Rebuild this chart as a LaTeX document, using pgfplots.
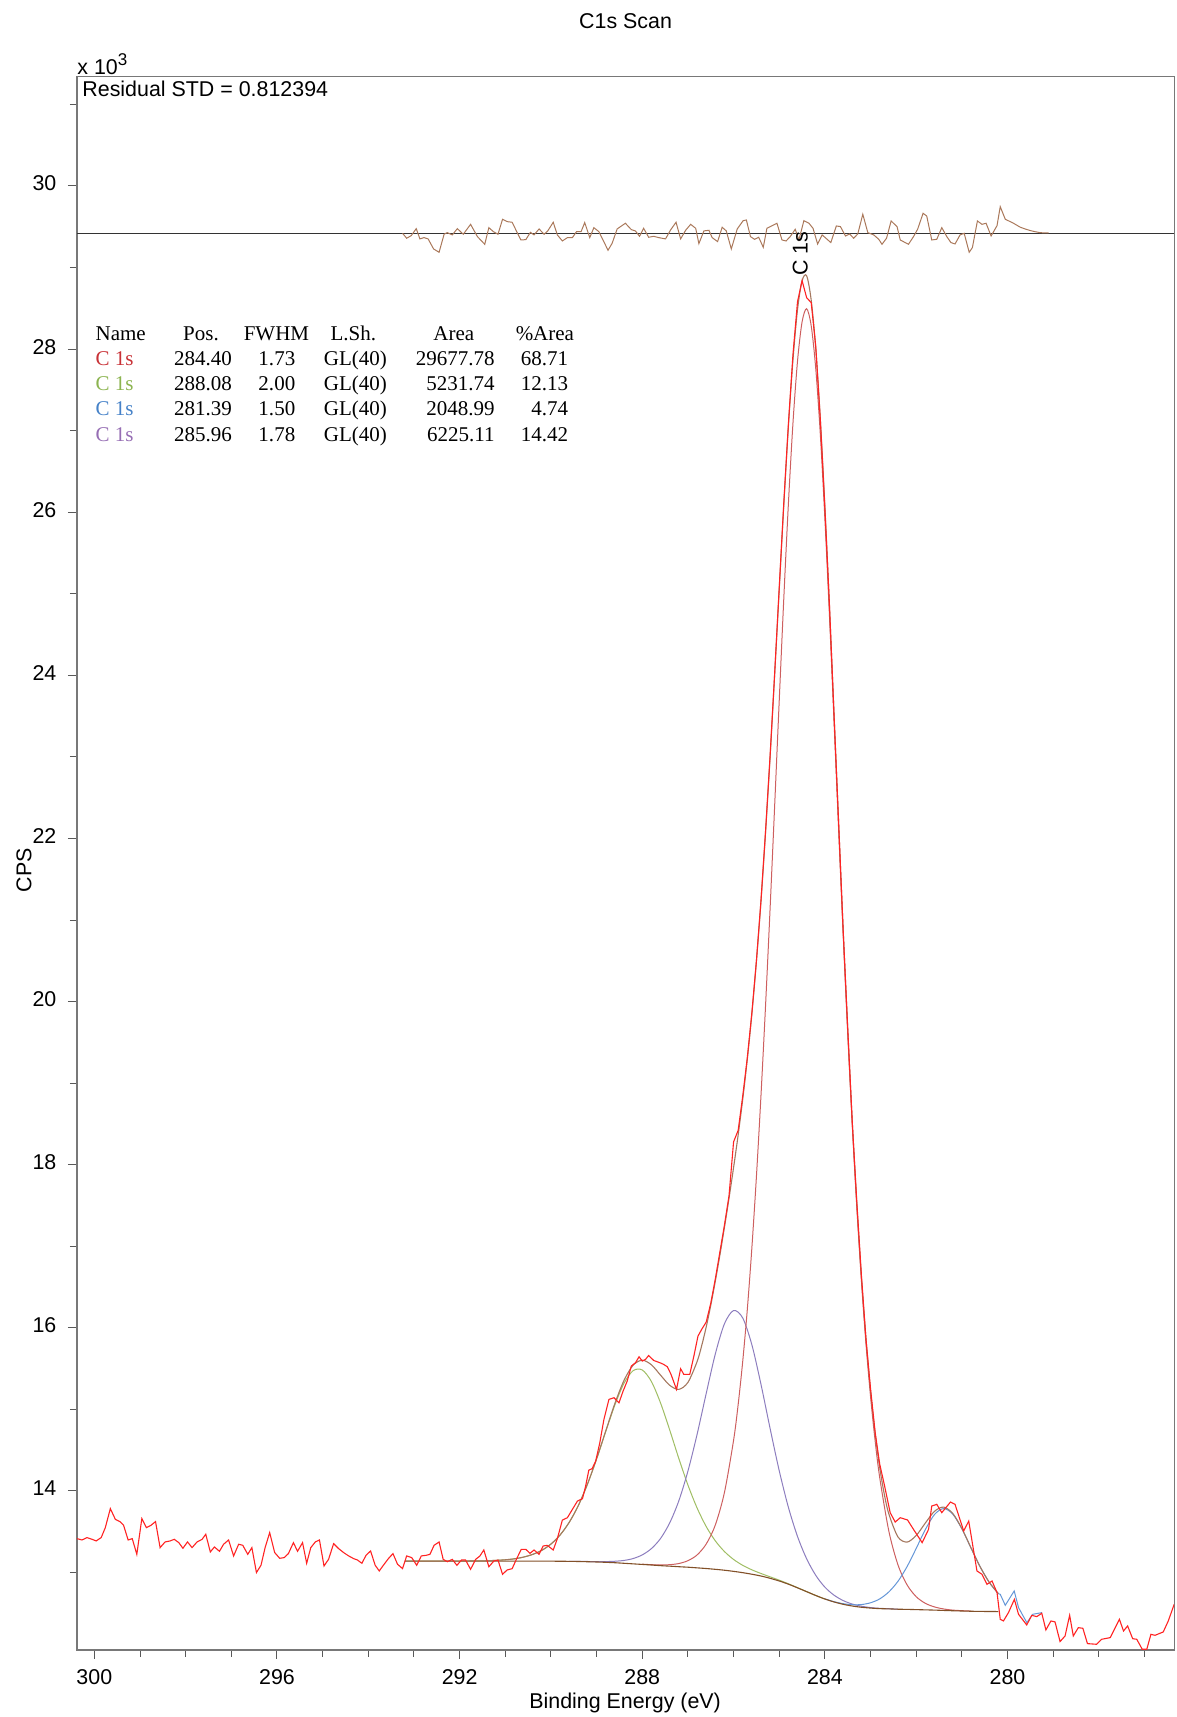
\documentclass[border=0pt]{standalone}
\usepackage{fontspec}
\setmainfont{Liberation Sans}
\newfontfamily\tms{Liberation Serif}
\usepackage{pgfplots}
\pgfplotsset{compat=1.18}
\definecolor{rawred}{RGB}{255,35,35}
\definecolor{envc}{RGB}{165,120,95}
\definecolor{bgc}{RGB}{130,80,40}
\definecolor{mainc}{RGB}{205,95,95}
\definecolor{greenc}{RGB}{160,190,100}
\definecolor{purplec}{RGB}{140,125,190}
\definecolor{bluec}{RGB}{100,150,215}
\definecolor{resc}{RGB}{170,120,90}
\definecolor{framegray}{RGB}{120,120,120}
\definecolor{tred}{RGB}{200,50,55}
\definecolor{tgreen}{RGB}{140,180,80}
\definecolor{tblue}{RGB}{70,130,200}
\definecolor{tpurple}{RGB}{150,110,180}
\newcommand{\lbl}{\fontsize{10.7}{12.5}\selectfont}
\newcommand{\tbl}{\tms\fontsize{10.5}{12}\selectfont}
\begin{document}
\begin{tikzpicture}
\begin{axis}[name=ax, at={(0,0)}, anchor=south west,
  scale only axis, width=548.5pt, height=786.5pt,
  x dir=reverse, xmin=276.35, xmax=300.38, ymin=12.05, ymax=31.34,
  xtick={280,284,288,292,296,300}, minor xtick={277,...,299},
  ytick={14,16,...,30}, minor ytick={13,15,...,31},
  tick align=outside, xtick pos=left, ytick pos=left,
  major tick length=4.5pt, minor tick length=3.5pt,
  axis line style={draw=framegray, line width=0.6pt},
  tick style={draw=black!65, line width=0.5pt},
  /pgf/number format/assume math mode=true,
  tick label style={font=\lbl, inner sep=0pt},
  xticklabel style={anchor=north, yshift=-5pt},
  yticklabel style={anchor=base east, xshift=-5.6pt, yshift=-2.5pt},
]
% residual baseline
\addplot[draw=black!80, line width=0.55pt] coordinates {(276.35,29.42) (300.38,29.42)};
% residual
\addplot[draw=resc, line width=0.5pt] coordinates {
(293.25,29.420) (293.16,29.359) (293.06,29.391) (292.95,29.477) (292.87,29.351) (292.78,29.367) (292.69,29.351) (292.57,29.228) (292.45,29.187) (292.34,29.408)
(292.27,29.428) (292.16,29.400) (292.05,29.477) (291.92,29.408) (291.76,29.530) (291.61,29.379) (291.45,29.285) (291.36,29.489) (291.26,29.440) (291.16,29.408)
(291.06,29.592) (290.96,29.563) (290.85,29.555) (290.66,29.338) (290.55,29.342) (290.45,29.432) (290.37,29.400) (290.26,29.473) (290.15,29.408) (290.07,29.449)
(289.95,29.555) (289.86,29.400) (289.75,29.326) (289.64,29.367) (289.53,29.367) (289.44,29.440) (289.34,29.440) (289.26,29.551) (289.15,29.367) (289.06,29.489)
(288.95,29.440) (288.75,29.212) (288.66,29.297) (288.55,29.473) (288.37,29.543) (288.24,29.465) (288.15,29.449) (288.06,29.383) (287.97,29.481) (287.86,29.371)
(287.75,29.383) (287.64,29.367) (287.49,29.351) (287.38,29.461) (287.26,29.555) (287.16,29.351) (287.05,29.457) (286.94,29.530) (286.83,29.481) (286.76,29.293)
(286.65,29.449) (286.54,29.457) (286.47,29.367) (286.35,29.318) (286.25,29.494) (286.16,29.449) (286.05,29.228) (285.92,29.473) (285.79,29.575) (285.72,29.583)
(285.63,29.379) (285.54,29.346) (285.45,29.371) (285.35,29.248) (285.27,29.481) (285.05,29.543) (284.94,29.338) (284.85,29.326) (284.76,29.379) (284.65,29.469)
(284.57,29.338) (284.46,29.575) (284.35,29.543) (284.26,29.481) (284.16,29.289) (284.06,29.400) (283.87,29.306) (283.75,29.510) (283.66,29.502) (283.55,29.387)
(283.46,29.412) (283.37,29.359) (283.28,29.412) (283.17,29.653) (283.06,29.428) (282.93,29.400) (282.82,29.346) (282.75,29.285) (282.65,29.359) (282.55,29.571)
(282.42,29.502) (282.35,29.338) (282.17,29.285) (282.06,29.379) (281.97,29.469) (281.85,29.665) (281.77,29.632) (281.66,29.338) (281.55,29.346) (281.44,29.489)
(281.33,29.379) (281.24,29.306) (281.15,29.289) (281.04,29.400) (280.95,29.420) (280.84,29.187) (280.77,29.244) (280.66,29.571) (280.56,29.530) (280.47,29.543)
(280.36,29.387) (280.23,29.514) (280.16,29.747) (280.05,29.592) (279.95,29.565) (279.87,29.543) (279.80,29.520) (279.72,29.494) (279.60,29.470) (279.50,29.453)
(279.40,29.440) (279.29,29.428) (279.20,29.425) (279.10,29.424)};
% green component + background
\addplot[draw=greenc, line width=0.5pt, smooth] coordinates {
(293.2,13.140) (292.0,13.140) (291.8,13.141) (291.6,13.142) (291.4,13.144) (291.2,13.149) (291.0,13.156) (290.8,13.168) (290.6,13.189) (290.4,13.222)
(290.2,13.272) (290.0,13.349) (289.8,13.460) (289.6,13.615) (289.4,13.821) (289.2,14.082) (289.0,14.391) (288.8,14.727) (288.6,15.054) (288.4,15.320)
(288.2,15.475) (288.0,15.483) (287.8,15.342) (287.6,15.079) (287.4,14.749) (287.2,14.399) (287.0,14.073) (286.8,13.792) (286.6,13.564) (286.4,13.388)
(286.2,13.257) (286.0,13.160) (285.8,13.088) (285.6,13.033) (285.4,12.988) (285.2,12.947) (285.0,12.906) (284.8,12.862) (284.6,12.814) (284.4,12.766)
(284.2,12.718) (284.0,12.675)};
% purple component + background
\addplot[draw=purplec, line width=0.5pt, smooth] coordinates {
(289.6,13.137) (289.2,13.135) (289.0,13.134) (288.8,13.134) (288.6,13.138) (288.4,13.148) (288.2,13.171) (288.0,13.216) (287.8,13.293) (287.6,13.417)
(287.4,13.607) (287.2,13.878) (287.0,14.243) (286.8,14.692) (286.6,15.194) (286.4,15.680) (286.2,16.050) (286.0,16.212) (285.8,16.121) (285.6,15.793)
(285.4,15.307) (285.2,14.765) (285.0,14.247) (284.8,13.800) (284.6,13.442) (284.4,13.168) (284.2,12.965) (284.0,12.820) (283.8,12.722) (283.6,12.656)
(283.4,12.613) (283.2,12.587) (283.0,12.570) (282.8,12.561) (282.6,12.556) (282.4,12.550)};
% main component + background
\addplot[draw=mainc, line width=0.5pt, smooth] coordinates {
(288.0,13.102) (287.8,13.096) (287.6,13.092) (287.4,13.096) (287.2,13.110) (287.0,13.145) (286.8,13.215) (286.6,13.349) (286.4,13.583) (286.2,13.982)
(286.0,14.622) (285.9,15.059) (285.8,15.588) (285.7,16.221) (285.6,16.977) (285.5,17.853) (285.4,18.848) (285.3,19.950) (285.2,21.146) (285.1,22.407)
(285.0,23.694) (284.9,24.946) (284.8,26.100) (284.7,27.089) (284.6,27.852) (284.5,28.333) (284.4,28.495) (284.3,28.286) (284.2,27.758) (284.1,26.951)
(284.0,25.918) (283.9,24.726) (283.8,23.437) (283.7,22.119) (283.6,20.827) (283.5,19.607) (283.4,18.480) (283.3,17.467) (283.2,16.572) (283.1,15.801)
(283.0,15.154) (282.9,14.614) (282.8,14.165) (282.6,13.508) (282.4,13.094) (282.2,12.848) (282.0,12.703) (281.8,12.622) (281.6,12.578) (281.4,12.553)
(281.2,12.539) (281.0,12.532) (280.8,12.527)};
% blue component + background
\addplot[draw=bluec, line width=0.5pt, smooth] coordinates {
(284.0,12.677) (283.8,12.642) (283.6,12.618) (283.4,12.605) (283.2,12.607) (283.0,12.629) (282.8,12.676) (282.6,12.762) (282.4,12.892) (282.2,13.073)
(282.0,13.296) (281.8,13.527) (281.6,13.711) (281.4,13.784) (281.2,13.716) (281.0,13.535) (280.8,13.300) (280.6,13.070) (280.4,12.879) (280.2,12.740)};
\addplot[draw=bluec, line width=0.5pt] coordinates {
(280.2,12.740) (280.16,12.733) (280.05,12.598) (279.854,12.774) (279.759,12.569) (279.577,12.385) (279.446,12.488) (279.248,12.508)};
% background
\addplot[draw=bgc, line width=0.55pt, smooth] coordinates {
(293.2,13.140) (290.4,13.140) (290.2,13.139) (290.0,13.139) (289.8,13.138) (289.6,13.137) (289.4,13.135) (289.2,13.132) (289.0,13.129) (288.8,13.125)
(288.6,13.120) (288.4,13.113) (288.2,13.106) (288.0,13.099) (287.8,13.092) (287.6,13.084) (287.4,13.078) (287.2,13.071) (287.0,13.065) (286.8,13.057)
(286.6,13.049) (286.4,13.039) (286.2,13.028) (286.0,13.014) (285.8,12.998) (285.6,12.979) (285.4,12.957) (285.2,12.929) (285.0,12.896) (284.8,12.857)
(284.6,12.812) (284.4,12.765) (284.2,12.718) (284.0,12.675) (283.8,12.639) (283.6,12.610) (283.4,12.589) (283.2,12.574) (283.0,12.564) (282.8,12.557)
(282.6,12.554) (282.4,12.550) (282.2,12.548) (282.0,12.545) (281.8,12.542) (281.6,12.539) (281.4,12.535) (281.2,12.531) (281.0,12.528) (280.8,12.525)
(280.6,12.523) (280.4,12.522) (280.2,12.521)};
% envelope
\addplot[draw=envc, line width=0.55pt, smooth] coordinates {
(293.2,13.140) (292.0,13.140) (291.8,13.141) (291.6,13.142) (291.4,13.144) (291.2,13.149) (291.0,13.156) (290.8,13.168) (290.6,13.189) (290.4,13.222)
(290.2,13.272) (290.0,13.349) (289.8,13.460) (289.6,13.615) (289.4,13.821) (289.2,14.085) (289.0,14.396) (288.8,14.736) (288.6,15.072) (288.4,15.355)
(288.2,15.542) (288.0,15.603) (287.8,15.547) (287.6,15.420) (287.4,15.296) (287.2,15.245) (287.0,15.331) (286.8,15.585) (286.7,15.778) (286.6,16.009)
(286.5,16.276) (286.4,16.573) (286.3,16.892) (286.2,17.233) (286.1,17.589) (286.0,17.966) (285.9,18.364) (285.8,18.801) (285.7,19.289) (285.6,19.845)
(285.5,20.492) (285.4,21.229) (285.3,22.073) (285.2,23.000) (285.1,24.014) (285.0,25.055) (284.9,26.091) (284.8,27.048) (284.7,27.865) (284.6,28.484)
(284.5,28.838) (284.4,28.899) (284.3,28.600) (284.2,28.006) (284.1,27.139) (284.0,26.065) (283.9,24.838) (283.8,23.523) (283.7,22.191) (283.6,20.881)
(283.5,19.655) (283.4,18.520) (283.3,17.509) (283.2,16.618) (283.1,15.862) (283.0,15.225) (282.9,14.706) (282.8,14.288) (282.7,13.962) (282.6,13.718)
(282.4,13.436) (282.2,13.373) (282.0,13.454) (281.8,13.607) (281.6,13.750) (281.4,13.802) (281.2,13.724) (281.0,13.539) (280.8,13.302) (280.6,13.070)
(280.4,12.879) (280.2,12.740)};
% raw data
\addplot[draw=rawred, line width=0.55pt] coordinates {
(300.38,13.415) (300.27,13.399) (300.16,13.428) (300.05,13.407) (299.96,13.387) (299.85,13.428) (299.76,13.550) (299.65,13.783) (299.54,13.652) (299.44,13.624)
(299.36,13.579) (299.26,13.399) (299.17,13.415) (299.07,13.223) (298.96,13.661) (298.86,13.550) (298.76,13.579) (298.66,13.624) (298.56,13.305) (298.45,13.375)
(298.34,13.387) (298.25,13.407) (298.15,13.366) (298.06,13.297) (297.96,13.375) (297.86,13.305) (297.75,13.375) (297.64,13.407) (297.56,13.469) (297.46,13.252)
(297.37,13.313) (297.26,13.260) (297.17,13.346) (297.06,13.399) (296.95,13.203) (296.84,13.346) (296.75,13.334) (296.64,13.223) (296.55,13.305) (296.45,12.999)
(296.35,13.089) (296.26,13.305) (296.16,13.489) (296.05,13.244) (295.94,13.174) (295.84,13.183) (295.75,13.232) (295.64,13.366) (295.55,13.260) (295.44,13.366)
(295.35,13.113) (295.26,13.305) (295.16,13.375) (295.07,13.399) (294.97,13.080) (294.87,13.162) (294.76,13.354) (294.65,13.293) (294.54,13.244) (294.43,13.203)
(294.32,13.170) (294.24,13.154) (294.14,13.113) (294.05,13.211) (293.95,13.264) (293.85,13.089) (293.76,13.019) (293.67,13.089) (293.56,13.170) (293.46,13.232)
(293.36,13.101) (293.25,13.048) (293.16,13.203) (293.05,13.183) (292.94,13.089) (292.84,13.203) (292.73,13.211) (292.65,13.223) (292.56,13.333) (292.45,13.374)
(292.36,13.161) (292.27,13.133) (292.16,13.161) (292.06,13.088) (291.96,13.153) (291.87,13.153) (291.76,13.039) (291.65,13.161) (291.56,13.200) (291.47,13.276)
(291.36,13.071) (291.25,13.141) (291.16,13.153) (291.06,12.978) (290.96,13.031) (290.85,13.047) (290.75,13.170) (290.65,13.284) (290.55,13.284) (290.46,13.235)
(290.37,13.276) (290.26,13.223) (290.17,13.325) (290.08,13.333) (289.95,13.276) (289.86,13.415) (289.75,13.643) (289.64,13.672) (289.53,13.774) (289.42,13.876)
(289.31,13.905) (289.24,14.060) (289.17,14.256) (289.10,14.272) (289.02,14.366) (288.93,14.591) (288.84,14.877) (288.73,15.122) (288.62,15.143) (288.51,15.081)
(288.42,15.224) (288.33,15.347) (288.24,15.531) (288.15,15.571) (288.07,15.645) (288.00,15.592) (287.93,15.612) (287.86,15.661) (287.75,15.600) (287.61,15.571)
(287.53,15.551) (287.45,15.522) (287.37,15.429) (287.25,15.245) (287.16,15.498) (287.09,15.429) (286.96,15.429) (286.87,15.653) (286.78,15.898) (286.70,15.980)
(286.60,16.070) (286.50,16.300) (286.40,16.600) (286.30,16.930) (286.20,17.260) (286.10,17.620) (286.00,18.280) (285.90,18.420) (285.80,18.840) (285.70,19.310)
(285.60,19.860) (285.50,20.500) (285.40,21.240) (285.30,22.090) (285.20,23.020) (285.10,24.030) (285.00,25.080) (284.90,26.120) (284.80,27.080) (284.70,27.930)
(284.60,28.580) (284.50,28.840) (284.40,28.630) (284.30,28.570) (284.20,28.030) (284.10,27.130) (284.00,26.040) (283.90,24.860) (283.80,23.510) (283.70,22.200)
(283.60,20.870) (283.50,19.670) (283.40,18.510) (283.30,17.530) (283.20,16.640) (283.10,15.860) (283.00,15.250) (282.90,14.720) (282.80,14.330) (282.70,14.080)
(282.57,13.733) (282.46,13.619) (282.35,13.672) (282.19,13.644) (282.06,13.529) (281.87,13.366) (281.73,13.529) (281.66,13.815) (281.55,13.836) (281.44,13.734)
(281.25,13.864) (281.15,13.836) (280.96,13.509) (280.85,13.631) (280.67,13.019) (280.56,12.978) (280.45,12.855) (280.34,12.896) (280.23,12.753) (280.16,12.426)
(280.09,12.406) (279.98,12.508) (279.85,12.671) (279.76,12.488) (279.58,12.357) (279.47,12.475) (279.36,12.459) (279.25,12.500) (279.16,12.296) (279.05,12.406)
(278.96,12.394) (278.85,12.153) (278.74,12.222) (278.64,12.475) (278.56,12.222) (278.45,12.324) (278.35,12.316) (278.25,12.128) (278.05,12.120) (277.94,12.181)
(277.75,12.202) (277.55,12.426) (277.46,12.283) (277.37,12.345) (277.26,12.189) (277.17,12.181) (277.05,12.059) (276.95,12.059) (276.86,12.242) (276.77,12.230)
(276.59,12.271) (276.48,12.406) (276.35,12.610)};
\node[rotate=90, font=\lbl, inner sep=0pt] at (axis cs:284.54,29.17) {C 1s};
\end{axis}
% titles and labels
\node[anchor=base, font=\lbl, inner sep=0pt] at ([xshift=274.25pt,yshift=810.75pt]ax.south west) {C1s Scan};
\node[anchor=base west, font=\lbl, inner sep=0pt] at ([yshift=1.2pt]ax.north west) {x 10\raisebox{0.8ex}{\fontsize{8.5}{9}\selectfont 3}};
\node[anchor=base west, font=\lbl, inner sep=0pt] at ([xshift=2.5pt,yshift=-9.8pt]ax.north west) {Residual STD = 0.812394};
\node[anchor=base, font=\lbl, inner sep=0pt] at ([xshift=274pt,yshift=-29.5pt]ax.south west) {Binding Energy (eV)};
\node[rotate=90, anchor=center, font=\lbl, inner sep=0pt] at ([xshift=-26.5pt,yshift=389.75pt]ax.south west) {CPS};
% peak table
\begin{scope}[shift={(ax.south west)}, yshift=-1.1pt, every node/.style={font=\tbl, inner sep=0pt}]
\node[anchor=base west] at (9.1pt,655.8pt) {Name};
\node[anchor=base] at (62pt,655.8pt) {Pos.};
\node[anchor=base] at (99.7pt,655.8pt) {FWHM};
\node[anchor=base] at (138.1pt,655.8pt) {L.Sh.};
\node[anchor=base] at (188.4pt,655.8pt) {Area};
\node[anchor=base] at (233.9pt,655.8pt) {\%Area};
\node[anchor=base west, text=tred] at (9.1pt,643.2pt) {C 1s};
\node[anchor=base east] at (77.6pt,643.2pt) {284.40};
\node[anchor=base east] at (109.3pt,643.2pt) {1.73};
\node[anchor=base] at (139.2pt,643.2pt) {GL(40)};
\node[anchor=base east] at (209pt,643.2pt) {29677.78};
\node[anchor=base east] at (245.7pt,643.2pt) {68.71};
\node[anchor=base west, text=tgreen] at (9.1pt,630.6pt) {C 1s};
\node[anchor=base east] at (77.6pt,630.6pt) {288.08};
\node[anchor=base east] at (109.3pt,630.6pt) {2.00};
\node[anchor=base] at (139.2pt,630.6pt) {GL(40)};
\node[anchor=base east] at (209pt,630.6pt) {5231.74};
\node[anchor=base east] at (245.7pt,630.6pt) {12.13};
\node[anchor=base west, text=tblue] at (9.1pt,618pt) {C 1s};
\node[anchor=base east] at (77.6pt,618pt) {281.39};
\node[anchor=base east] at (109.3pt,618pt) {1.50};
\node[anchor=base] at (139.2pt,618pt) {GL(40)};
\node[anchor=base east] at (209pt,618pt) {2048.99};
\node[anchor=base east] at (245.7pt,618pt) {4.74};
\node[anchor=base west, text=tpurple] at (9.1pt,605.4pt) {C 1s};
\node[anchor=base east] at (77.6pt,605.4pt) {285.96};
\node[anchor=base east] at (109.3pt,605.4pt) {1.78};
\node[anchor=base] at (139.2pt,605.4pt) {GL(40)};
\node[anchor=base east] at (209pt,605.4pt) {6225.11};
\node[anchor=base east] at (245.7pt,605.4pt) {14.42};
\end{scope}
\pgfresetboundingbox
\path ([xshift=-38.5pt,yshift=-33.5pt]ax.south west) rectangle ([xshift=1pt,yshift=38.35pt]ax.north east);
\end{tikzpicture}
\end{document}
